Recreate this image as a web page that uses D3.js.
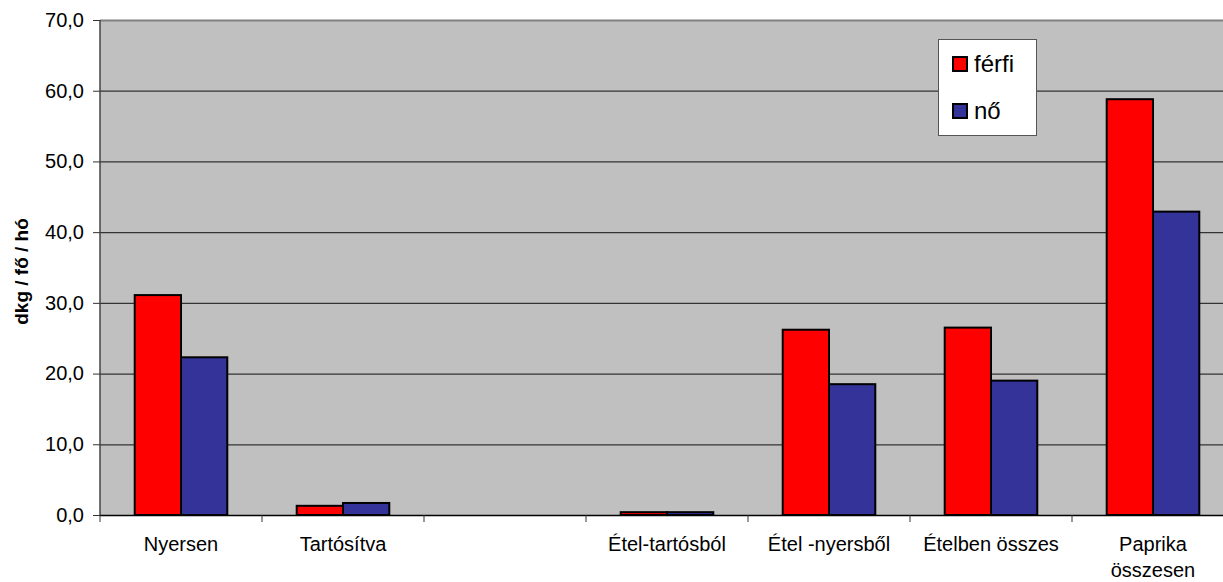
<!DOCTYPE html>
<html>
<head>
<meta charset="utf-8">
<script src="https://cdn.jsdelivr.net/npm/d3@7"></script>
<style>
  html, body { margin: 0; padding: 0; background: #fff; overflow: hidden; }
  svg { display: block; font-family: "Liberation Sans", Arial, sans-serif; }
</style>
</head>
<body>
<svg id="chart" width="1223" height="582"></svg>
<script>
// ---- data ----
const categories = ["Nyersen", "Tartósítva", "", "Étel-tartósból", "Étel -nyersből", "Ételben összes", "Paprika összesen"];
const seriesNames = ["férfi", "nő"];
const ferfi = [31.1, 1.3, null, 0.4, 26.2, 26.5, 58.8];
const no = [22.3, 1.7, null, 0.4, 18.5, 19.0, 42.9];
const yTicks = [0, 10, 20, 30, 40, 50, 60, 70];
const yTitle = "dkg / fő / hó";
const seriesColors = ["#FF0000", "#333399"];

// ---- layout ----
const svg = d3.select("#chart");
const mLeft = 100, mTop = 20, plotW = 1134, plotH = 495;
const g = svg.append("g").attr("transform", `translate(${mLeft},${mTop})`);

const x0 = d3.scaleBand().domain(d3.range(categories.length)).range([0, plotW]).padding(0);
const x1 = d3.scaleBand().domain(seriesNames).range([0, x0.bandwidth()]).paddingInner(0).paddingOuter(0.75);
const y = d3.scaleLinear().domain([0, 70]).range([plotH, 0]);

// background
g.append("rect").attr("x", 0).attr("y", 0).attr("width", plotW).attr("height", plotH).attr("fill", "#C0C0C0");

// gridlines
g.append("g").selectAll("line").data(yTicks.filter(t => t > 0)).join("line")
  .attr("x1", 0).attr("x2", plotW)
  .attr("y1", d => y(d) + 0.5).attr("y2", d => y(d) + 0.5)
  .attr("stroke", d => d === 70 ? "#808080" : "#333")
  .attr("stroke-width", d => d === 70 ? 2 : 1.3);

// bars
const data = categories.map((c, i) => ({ i, vals: [ferfi[i], no[i]] }));
const grp = g.append("g").selectAll("g").data(data).join("g")
  .attr("transform", d => `translate(${x0(d.i)},0)`);
grp.selectAll("rect").data(d => d.vals.map((v, k) => ({ v, k })).filter(e => e.v !== null)).join("rect")
  .attr("x", e => x1(seriesNames[e.k]))
  .attr("y", e => y(e.v))
  .attr("width", x1.bandwidth())
  .attr("height", e => plotH - y(e.v))
  .attr("fill", e => seriesColors[e.k])
  .attr("stroke", "#000")
  .attr("stroke-width", 2);

// y axis
const yAxis = d3.axisLeft(y).tickValues(yTicks).tickSize(7).tickPadding(9)
  .tickFormat(d => d3.format(".1f")(d).replace(".", ","));
const ya = g.append("g").call(yAxis);
ya.select(".domain").attr("stroke", "#444").attr("stroke-width", 1.5).attr("d", `M0,0V${plotH}`);
ya.selectAll(".tick line").attr("stroke", "#333");
ya.selectAll(".tick text").attr("font-size", 20).attr("fill", "#000").attr("font-family", "Liberation Sans, Arial, sans-serif");

// x axis
const xa = g.append("g").attr("transform", `translate(0,${plotH})`);
xa.append("line").attr("x1", 0).attr("x2", plotW).attr("y1", 0.5).attr("y2", 0.5).attr("stroke", "#000").attr("stroke-width", 1.5);
xa.selectAll("line.tk").data(d3.range(categories.length + 1)).join("line").attr("class", "tk")
  .attr("x1", d => d * x0.step()).attr("x2", d => d * x0.step())
  .attr("y1", 0).attr("y2", 7).attr("stroke", "#333").attr("stroke-width", 1);

// category labels with wrapping
const labels = xa.selectAll("text.cat").data(categories).join("text").attr("class", "cat")
  .attr("x", (d, i) => x0(i) + x0.bandwidth() / 2)
  .attr("y", 36)
  .attr("text-anchor", "middle")
  .attr("font-size", 20)
  .attr("fill", "#000");
labels.each(function(d) {
  const t = d3.select(this);
  const maxW = 150;
  const words = d.split(" ");
  let line = [];
  let tspan = t.append("tspan").attr("x", t.attr("x")).attr("dy", 0);
  words.forEach(w => {
    line.push(w);
    tspan.text(line.join(" "));
    if (tspan.node().getComputedTextLength() > maxW && line.length > 1) {
      line.pop();
      tspan.text(line.join(" "));
      line = [w];
      tspan = t.append("tspan").attr("x", t.attr("x")).attr("dy", 26).text(w);
    }
  });
});

// y title
svg.append("text")
  .attr("transform", `translate(28,${mTop + plotH / 2 + 4}) rotate(-90)`)
  .attr("text-anchor", "middle")
  .attr("font-size", 19)
  .attr("font-weight", "bold")
  .attr("fill", "#000")
  .text(yTitle);

// legend
const lg = svg.append("g").attr("transform", "translate(938,39)");
lg.append("rect").attr("x", 0.5).attr("y", 0.5).attr("width", 98).attr("height", 96)
  .attr("fill", "#fff").attr("stroke", "#555").attr("stroke-width", 1);
const li = lg.selectAll("g.li").data(seriesNames).join("g").attr("class", "li")
  .attr("transform", (d, i) => `translate(0,${i * 47})`);
li.append("rect").attr("x", 15).attr("y", 18).attr("width", 14).attr("height", 14)
  .attr("fill", (d, i) => seriesColors[i]).attr("stroke", "#000").attr("stroke-width", 2);
li.append("text").attr("x", 36).attr("y", 33).attr("font-size", 24).attr("fill", "#000").text(d => d);
</script>
</body>
</html>
